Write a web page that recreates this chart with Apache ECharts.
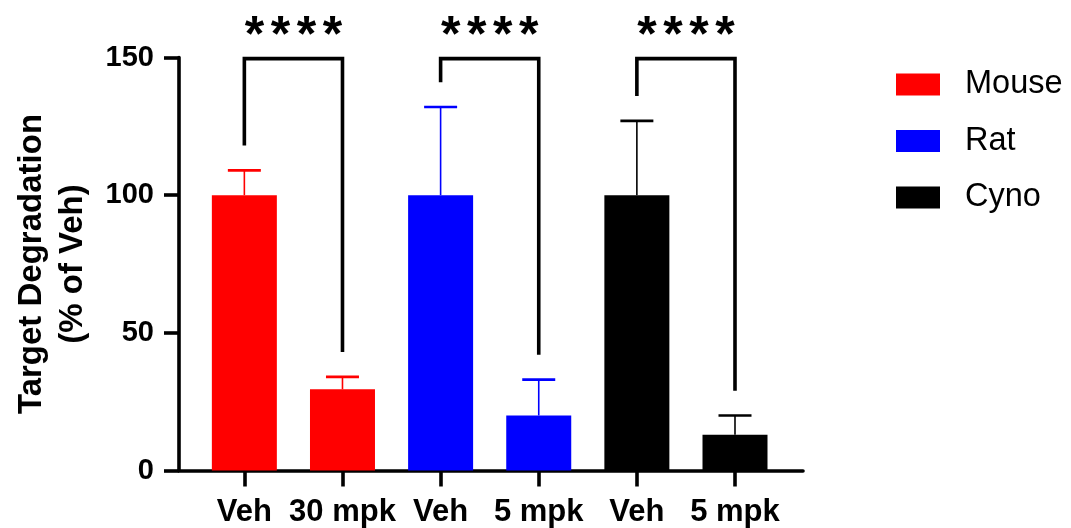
<!DOCTYPE html>
<html><head><meta charset="utf-8">
<script src="https://cdn.jsdelivr.net/npm/echarts@6/dist/echarts.min.js"></script>
<style>html,body{margin:0;padding:0;background:#fff}#c{width:1071px;height:528px}</style>
</head><body><div id="c"></div>
<script>
// ---- data ----
const categories = ['Veh', '30 mpk', 'Veh', '5 mpk', 'Veh', '5 mpk'];
const speciesNames = ['Mouse', 'Rat', 'Cyno'];
const speciesColors = ['#FF0000', '#0000FF', '#000000'];
const mouseX = [0, 1];
const ratX = [2, 3];
const cynoX = [4, 5];
const mouseMean = [100, 29.5];
const mouseErr = [9, 4.5];
const ratMean = [100, 20];
const ratErr = [32, 13];
const cynoMean = [100, 13];
const cynoErr = [27, 7];
const yTicks = [0, 50, 100, 150];
const bracketLeft = [0, 2, 4];
const bracketRight = [1, 3, 5];
const bracketLeftEnd = [118, 141, 136];
const bracketRightEnd = [43, 42, 29];
const bracketTop = 149.6;
const starLabel = '****';
const starY = 157.4;

const FONT = '"Liberation Sans", Arial, Helvetica, sans-serif';

function pairs(xs, ys) { return xs.map((x, i) => [x, ys[i]]); }
function triples(xs, ys, es) { return xs.map((x, i) => [x, ys[i], es[i]]); }

function errRender(color) {
  return function (params, api) {
    const x = api.value(0), m = api.value(1), e = api.value(2);
    const b = api.coord([x, m]);
    const t = api.coord([x, m + e]);
    const half = 16.5;
    return {
      type: 'group', children: [
        { type: 'line', shape: { x1: b[0], y1: b[1], x2: t[0], y2: t[1] }, style: { stroke: color, lineWidth: 1.6 } },
        { type: 'line', shape: { x1: t[0] - half, y1: t[1], x2: t[0] + half, y2: t[1] }, style: { stroke: color, lineWidth: 2.6 } }
      ]
    };
  };
}

function bracketRender(params, api) {
  const l = api.value(0), r = api.value(1), le = api.value(2), re = api.value(3);
  const a = api.coord([l, le]), b = api.coord([l, bracketTop]), c = api.coord([r, bracketTop]), d = api.coord([r, re]);
  const s = api.coord([(l + r) / 2, starY]);
  const stars = starLabel.split('');
  const step = 26;
  const children = [
    { type: 'polyline', shape: { points: [a, b, c, d] }, style: { stroke: '#000', lineWidth: 3.6, fill: null, lineJoin: 'miter' } }
  ];
  stars.forEach((ch, i) => {
    children.push({ type: 'text', x: s[0] + (i - (stars.length - 1) / 2) * step, y: s[1],
      style: { text: ch, font: 'bold 50px ' + FONT, fill: '#000', align: 'center', verticalAlign: 'middle' } });
  });
  return { type: 'group', children };
}

const chart = echarts.init(document.getElementById('c'), null, { renderer: 'canvas' });
const option = {
  backgroundColor: '#fff',
  animation: false,
  grid: { left: 179, right: 268, top: 57.5, bottom: 57.5, outerBoundsMode: 'none' },
  legend: {
    data: speciesNames,
    orient: 'vertical',
    left: 896,
    top: 68,
    padding: 0,
    itemWidth: 44,
    itemHeight: 22,
    itemGap: 23.5,
    icon: 'rect',
    selectedMode: false,
    textStyle: { fontSize: 32.5, color: '#000', fontFamily: FONT, padding: [0, 0, 0, 20] }
  },
  xAxis: {
    type: 'value',
    min: -0.666,
    max: 5.693,
    splitLine: { show: false },
    axisLine: { show: true, onZero: false, lineStyle: { color: '#000', width: 3.6 } },
    axisTick: { show: true, customValues: [0, 1, 2, 3, 4, 5], length: 16, lineStyle: { color: '#000', width: 3.6 } },
    axisLabel: {
      customValues: [0, 1, 2, 3, 4, 5],
      formatter: v => categories[Math.round(v)],
      fontSize: 31, fontWeight: 'bold', color: '#000', fontFamily: FONT, margin: 26
    }
  },
  yAxis: {
    type: 'value',
    min: 0, max: 150, interval: 50,
    splitLine: { show: false },
    axisLine: { show: true, onZero: false, lineStyle: { color: '#000', width: 3.6 } },
    axisTick: { show: true, length: 15, lineStyle: { color: '#000', width: 3.6 } },
    axisLabel: { fontSize: 29, fontWeight: 'bold', color: '#000', fontFamily: FONT, margin: 25,
      customValues: yTicks },
    name: 'Target Degradation\n(% of Veh)',
    nameLocation: 'middle',
    nameGap: 86,
    nameTextStyle: { fontSize: 33, fontWeight: 'bold', color: '#000', fontFamily: FONT, lineHeight: 41 }
  },
  series: [
    { name: speciesNames[0], type: 'bar', data: pairs(mouseX, mouseMean), barWidth: 65, barGap: '-100%', itemStyle: { color: speciesColors[0] } },
    { name: speciesNames[1], type: 'bar', data: pairs(ratX, ratMean), barWidth: 65, barGap: '-100%', itemStyle: { color: speciesColors[1] } },
    { name: speciesNames[2], type: 'bar', data: pairs(cynoX, cynoMean), barWidth: 65, barGap: '-100%', itemStyle: { color: speciesColors[2] } },
    { type: 'custom', z: 5, clip: false, renderItem: errRender(speciesColors[0]), data: triples(mouseX, mouseMean, mouseErr) },
    { type: 'custom', z: 5, clip: false, renderItem: errRender(speciesColors[1]), data: triples(ratX, ratMean, ratErr) },
    { type: 'custom', z: 5, clip: false, renderItem: errRender(speciesColors[2]), data: triples(cynoX, cynoMean, cynoErr) },
    { type: 'custom', z: 6, clip: false, renderItem: bracketRender,
      data: bracketLeft.map((l, i) => [l, bracketRight[i], bracketLeftEnd[i], bracketRightEnd[i]]) }
  ]
};
chart.setOption(option);
</script>
</body></html>
